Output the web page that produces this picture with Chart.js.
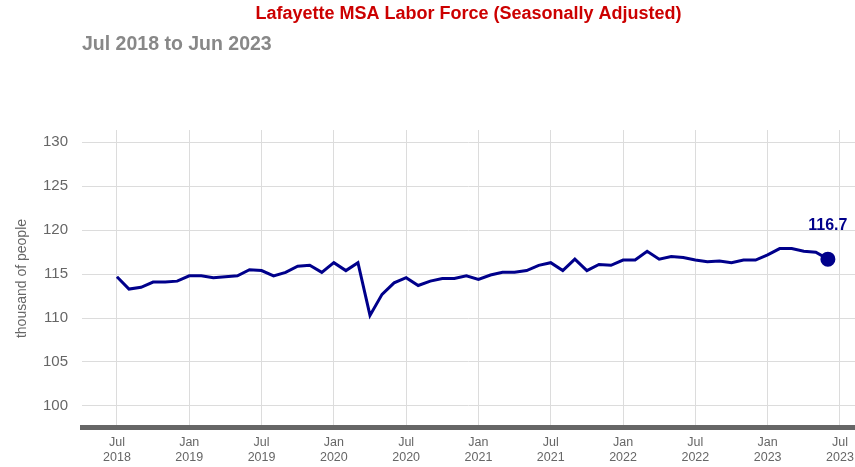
<!DOCTYPE html>
<html>
<head>
<meta charset="utf-8">
<script src="https://cdn.jsdelivr.net/npm/chart.js@4.4.0/dist/chart.umd.min.js"></script>
<style>
  html, body { margin: 0; padding: 0; background: #fff; }
  #wrap { width: 855px; height: 467px; }
</style>
</head>
<body>
<div id="wrap"><canvas id="laborChart" width="855" height="467"></canvas></div>
<script>
// monthly labor force, thousand of people, Jul 2018 .. Jun 2023
const months = [
  "Jul 2018","Aug 2018","Sep 2018","Oct 2018","Nov 2018","Dec 2018",
  "Jan 2019","Feb 2019","Mar 2019","Apr 2019","May 2019","Jun 2019",
  "Jul 2019","Aug 2019","Sep 2019","Oct 2019","Nov 2019","Dec 2019",
  "Jan 2020","Feb 2020","Mar 2020","Apr 2020","May 2020","Jun 2020",
  "Jul 2020","Aug 2020","Sep 2020","Oct 2020","Nov 2020","Dec 2020",
  "Jan 2021","Feb 2021","Mar 2021","Apr 2021","May 2021","Jun 2021",
  "Jul 2021","Aug 2021","Sep 2021","Oct 2021","Nov 2021","Dec 2021",
  "Jan 2022","Feb 2022","Mar 2022","Apr 2022","May 2022","Jun 2022",
  "Jul 2022","Aug 2022","Sep 2022","Oct 2022","Nov 2022","Dec 2022",
  "Jan 2023","Feb 2023","Mar 2023","Apr 2023","May 2023","Jun 2023"
];
const laborForce = [
  114.7, 113.3, 113.5, 114.1, 114.1, 114.2, 114.8, 114.8, 114.6, 114.7, 114.8, 115.5,
  115.4, 114.8, 115.2, 115.9, 116.0, 115.2, 116.3, 115.4, 116.3, 110.3, 112.7, 114.0,
  114.6, 113.7, 114.2, 114.5, 114.5, 114.8, 114.4, 114.9, 115.2, 115.2, 115.4, 116.0,
  116.3, 115.4, 116.7, 115.4, 116.1, 116.0, 116.6, 116.6, 117.6, 116.7, 117.0, 116.9,
  116.6, 116.4, 116.5, 116.3, 116.6, 116.6, 117.2, 117.9, 117.9, 117.6, 117.5, 116.7
];
// x tick labels every 6 months starting at Jul 2018
const tickLabels = [
  ["Jul","2018"],["Jan","2019"],["Jul","2019"],["Jan","2020"],["Jul","2020"],["Jan","2021"],
  ["Jul","2021"],["Jan","2022"],["Jul","2022"],["Jan","2023"],["Jul","2023"]
];
const yTicks = [100, 105, 110, 115, 120, 125, 130];

const titleText = "Lafayette MSA Labor Force (Seasonally Adjusted)";
const subtitleText = "Jul 2018 to Jun 2023";

const lineColor = "#00008b";
const gridColor = "#dcdcdc";
const textGray = "#666666";
const fontFam = "'Liberation Sans', Arial, sans-serif";

// label over the last point
const lastLabel = {
  id: "lastLabel",
  afterDatasetsDraw(chart) {
    const meta = chart.getDatasetMeta(0);
    const n = laborForce.length - 1;
    const pt = meta.data[n];
    const ctx = chart.ctx;
    ctx.save();
    ctx.font = "bold 16px " + fontFam;
    ctx.fillStyle = lineColor;
    ctx.textAlign = "center";
    ctx.textBaseline = "middle";
    ctx.fillText(laborForce[n].toFixed(1), pt.x, pt.y - 34);
    ctx.restore();
  }
};

const ctx = document.getElementById("laborChart");
new Chart(ctx, {
  type: "line",
  data: {
    labels: months,
    datasets: [{
      label: "Labor Force",
      data: laborForce.map((v, i) => ({ x: i, y: v })),
      borderColor: lineColor,
      backgroundColor: lineColor,
      borderWidth: 3,
      tension: 0,
      fill: false,
      pointRadius: laborForce.map((v, i) => i === laborForce.length - 1 ? 6 : 0),
      pointHoverRadius: 0
    }]
  },
  options: {
    responsive: false,
    animation: false,
    layout: { autoPadding: false, padding: { left: 0, right: 0, top: 0, bottom: 0 } },
    plugins: {
      legend: { display: false },
      tooltip: { enabled: false },
      title: {
        display: true,
        text: titleText,
        color: "#cc0000",
        font: { family: fontFam, size: 18, weight: "bold" },
        fullSize: false,
        align: "center",
        padding: { top: 3, bottom: 6 }
      },
      subtitle: {
        display: true,
        text: subtitleText,
        color: "#888888",
        font: { family: fontFam, size: 19.5, weight: "bold" },
        fullSize: false,
        align: "start",
        padding: { top: 2, bottom: 74 }
      }
    },
    scales: {
      x: {
        type: "linear",
        min: -2.9,
        max: 61.25,
        afterBuildTicks(scale) {
          scale.ticks = tickLabels.map((t, i) => ({ value: i * 6 }));
        },
        afterFit(scale) {
          scale.height = 40;
          scale.paddingLeft = 0;
          scale.paddingRight = 0;
        },
        ticks: {
          autoSkip: false,
          maxRotation: 0,
          padding: 8,
          color: textGray,
          font: { family: fontFam, size: 12.5 },
          callback: (v) => tickLabels[Math.round(v / 6)]
        },
        grid: { color: gridColor, lineWidth: 1, drawTicks: false },
        border: { display: true, color: "#666666", width: 5 }
      },
      y: {
        min: 97.6,
        max: 131.4,
        afterBuildTicks(scale) {
          scale.ticks = yTicks.map(v => ({ value: v }));
        },
        afterFit(scale) { scale.width = 82; },
        ticks: {
          padding: 14,
          color: textGray,
          font: { family: fontFam, size: 15 }
        },
        grid: { color: gridColor, lineWidth: 1, drawTicks: false },
        border: { display: false },
        title: {
          display: true,
          text: "thousand of people",
          color: textGray,
          font: { family: fontFam, size: 14 },
          padding: { top: 14, bottom: 4 }
        }
      }
    }
  },
  plugins: [lastLabel]
});
</script>
</body>
</html>
